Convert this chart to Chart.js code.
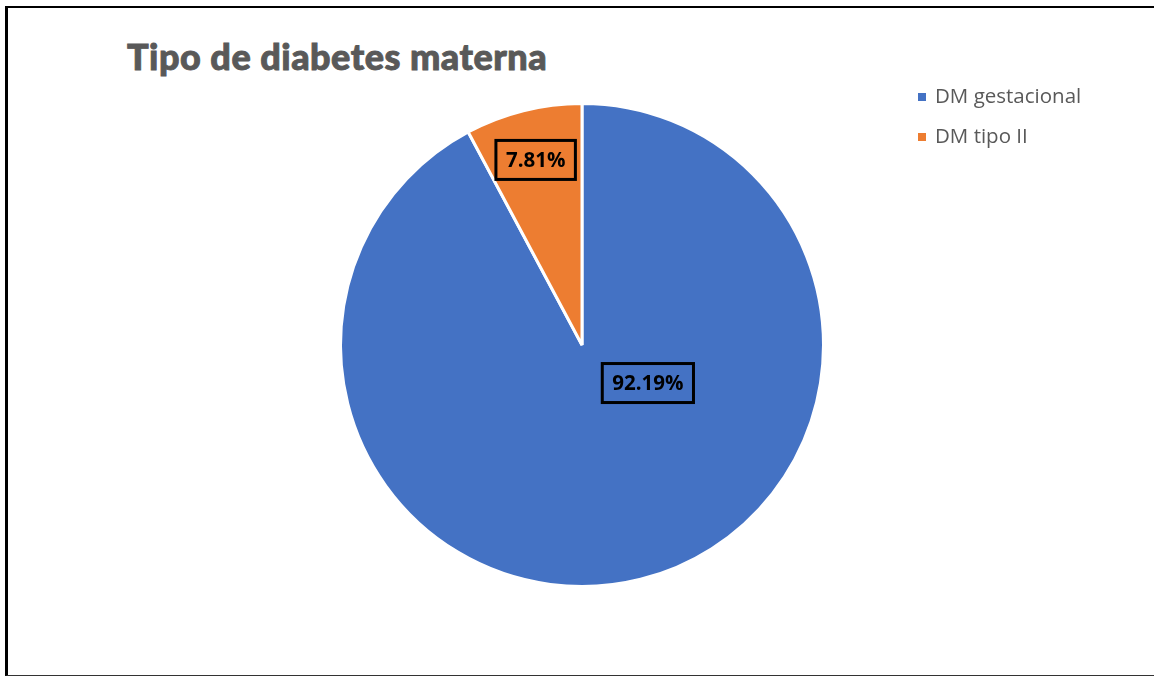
<!DOCTYPE html>
<html lang="es">
<head>
  <meta charset="UTF-8" />
  <title>Tipo de diabetes materna</title>
  <script src="https://cdn.jsdelivr.net/npm/chart.js"></script>
  <style>
    html, body { margin: 0; padding: 0; background: #fff; }
    #frame {
      position: relative; overflow: hidden;
      box-sizing: border-box;
      border-top: 2px solid #000; border-left: 3px solid #000; border-bottom: 1px solid #333;
      margin-top: 6px; margin-left: 5px; width: 1149px; height: 670px;
    }
    #title {
      position: absolute; left: 119px; top: 26px;
      font-family: Lato, sans-serif; font-weight: 900; font-size: 36px;
      color: #595959; white-space: nowrap; letter-spacing: 0.5px;
      -webkit-text-stroke: 0.9px #595959;
    }
    #chart { position: absolute; left: -8px; top: -8px; }
  </style>
</head>
<body>
  <div id="frame">
    <div id="title">Tipo de diabetes materna</div>
    <canvas id="chart" width="1154" height="677"></canvas>
  </div>

  <script>
    const categories = ['DM gestacional', 'DM tipo II'];
    const percentages = [92.19, 7.81];
    const sliceColors = ['#4472C4', '#ED7D31'];

    // boxed percentage labels; angle in degrees (screen coords), distance as fraction of radius
    const labelSpots = [
      { angle: 30, dist: 0.315 },
      { angle: null, dist: 0.79 }   // null = middle of the slice
    ];

    const boxedLabels = {
      id: 'boxedLabels',
      afterDatasetsDraw(chart) {
        const ctx = chart.ctx;
        const arcs = chart.getDatasetMeta(0).data;
        ctx.save();
        ctx.font = 'bold 20.5px "Open Sans", sans-serif';
        ctx.textAlign = 'center';
        ctx.textBaseline = 'middle';
        arcs.forEach((arc, i) => {
          const spot = labelSpots[i];
          const a = spot.angle === null ? (arc.startAngle + arc.endAngle) / 2 : spot.angle * Math.PI / 180;
          const x = arc.x + Math.cos(a) * arc.outerRadius * spot.dist;
          const y = arc.y + Math.sin(a) * arc.outerRadius * spot.dist;
          const text = percentages[i].toFixed(2) + '%';
          const w = ctx.measureText(text).width + 20;
          const h = 39;
          ctx.lineWidth = 3;
          ctx.strokeStyle = '#000';
          ctx.strokeRect(x - w / 2, y - h / 2, w, h);
          ctx.fillStyle = '#000';
          ctx.fillText(text, x, y + 1);
        });
        ctx.restore();
      }
    };

    const sideLegend = {
      id: 'sideLegend',
      afterDraw(chart) {
        const ctx = chart.ctx;
        ctx.save();
        ctx.font = '20.5px "Open Sans", sans-serif';
        ctx.textBaseline = 'middle';
        chart.data.labels.forEach((label, i) => {
          const y = 97 + i * 40;
          ctx.fillStyle = sliceColors[i];
          ctx.fillRect(918, y - 4, 8, 8);
          ctx.fillStyle = '#595959';
          ctx.fillText(label, 935, y);
        });
        ctx.restore();
      }
    };

    new Chart(document.getElementById('chart'), {
      type: 'pie',
      data: {
        labels: categories,
        datasets: [{
          data: percentages,
          backgroundColor: sliceColors,
          borderColor: '#fff',
          borderWidth: 3
        }]
      },
      options: {
        responsive: false,
        animation: false,
        layout: { padding: { left: 300, right: 290, top: 102, bottom: 89 } },
        plugins: {
          legend: { display: false },
          tooltip: { enabled: false }
        }
      },
      plugins: [boxedLabels, sideLegend]
    });
  </script>
</body>
</html>
